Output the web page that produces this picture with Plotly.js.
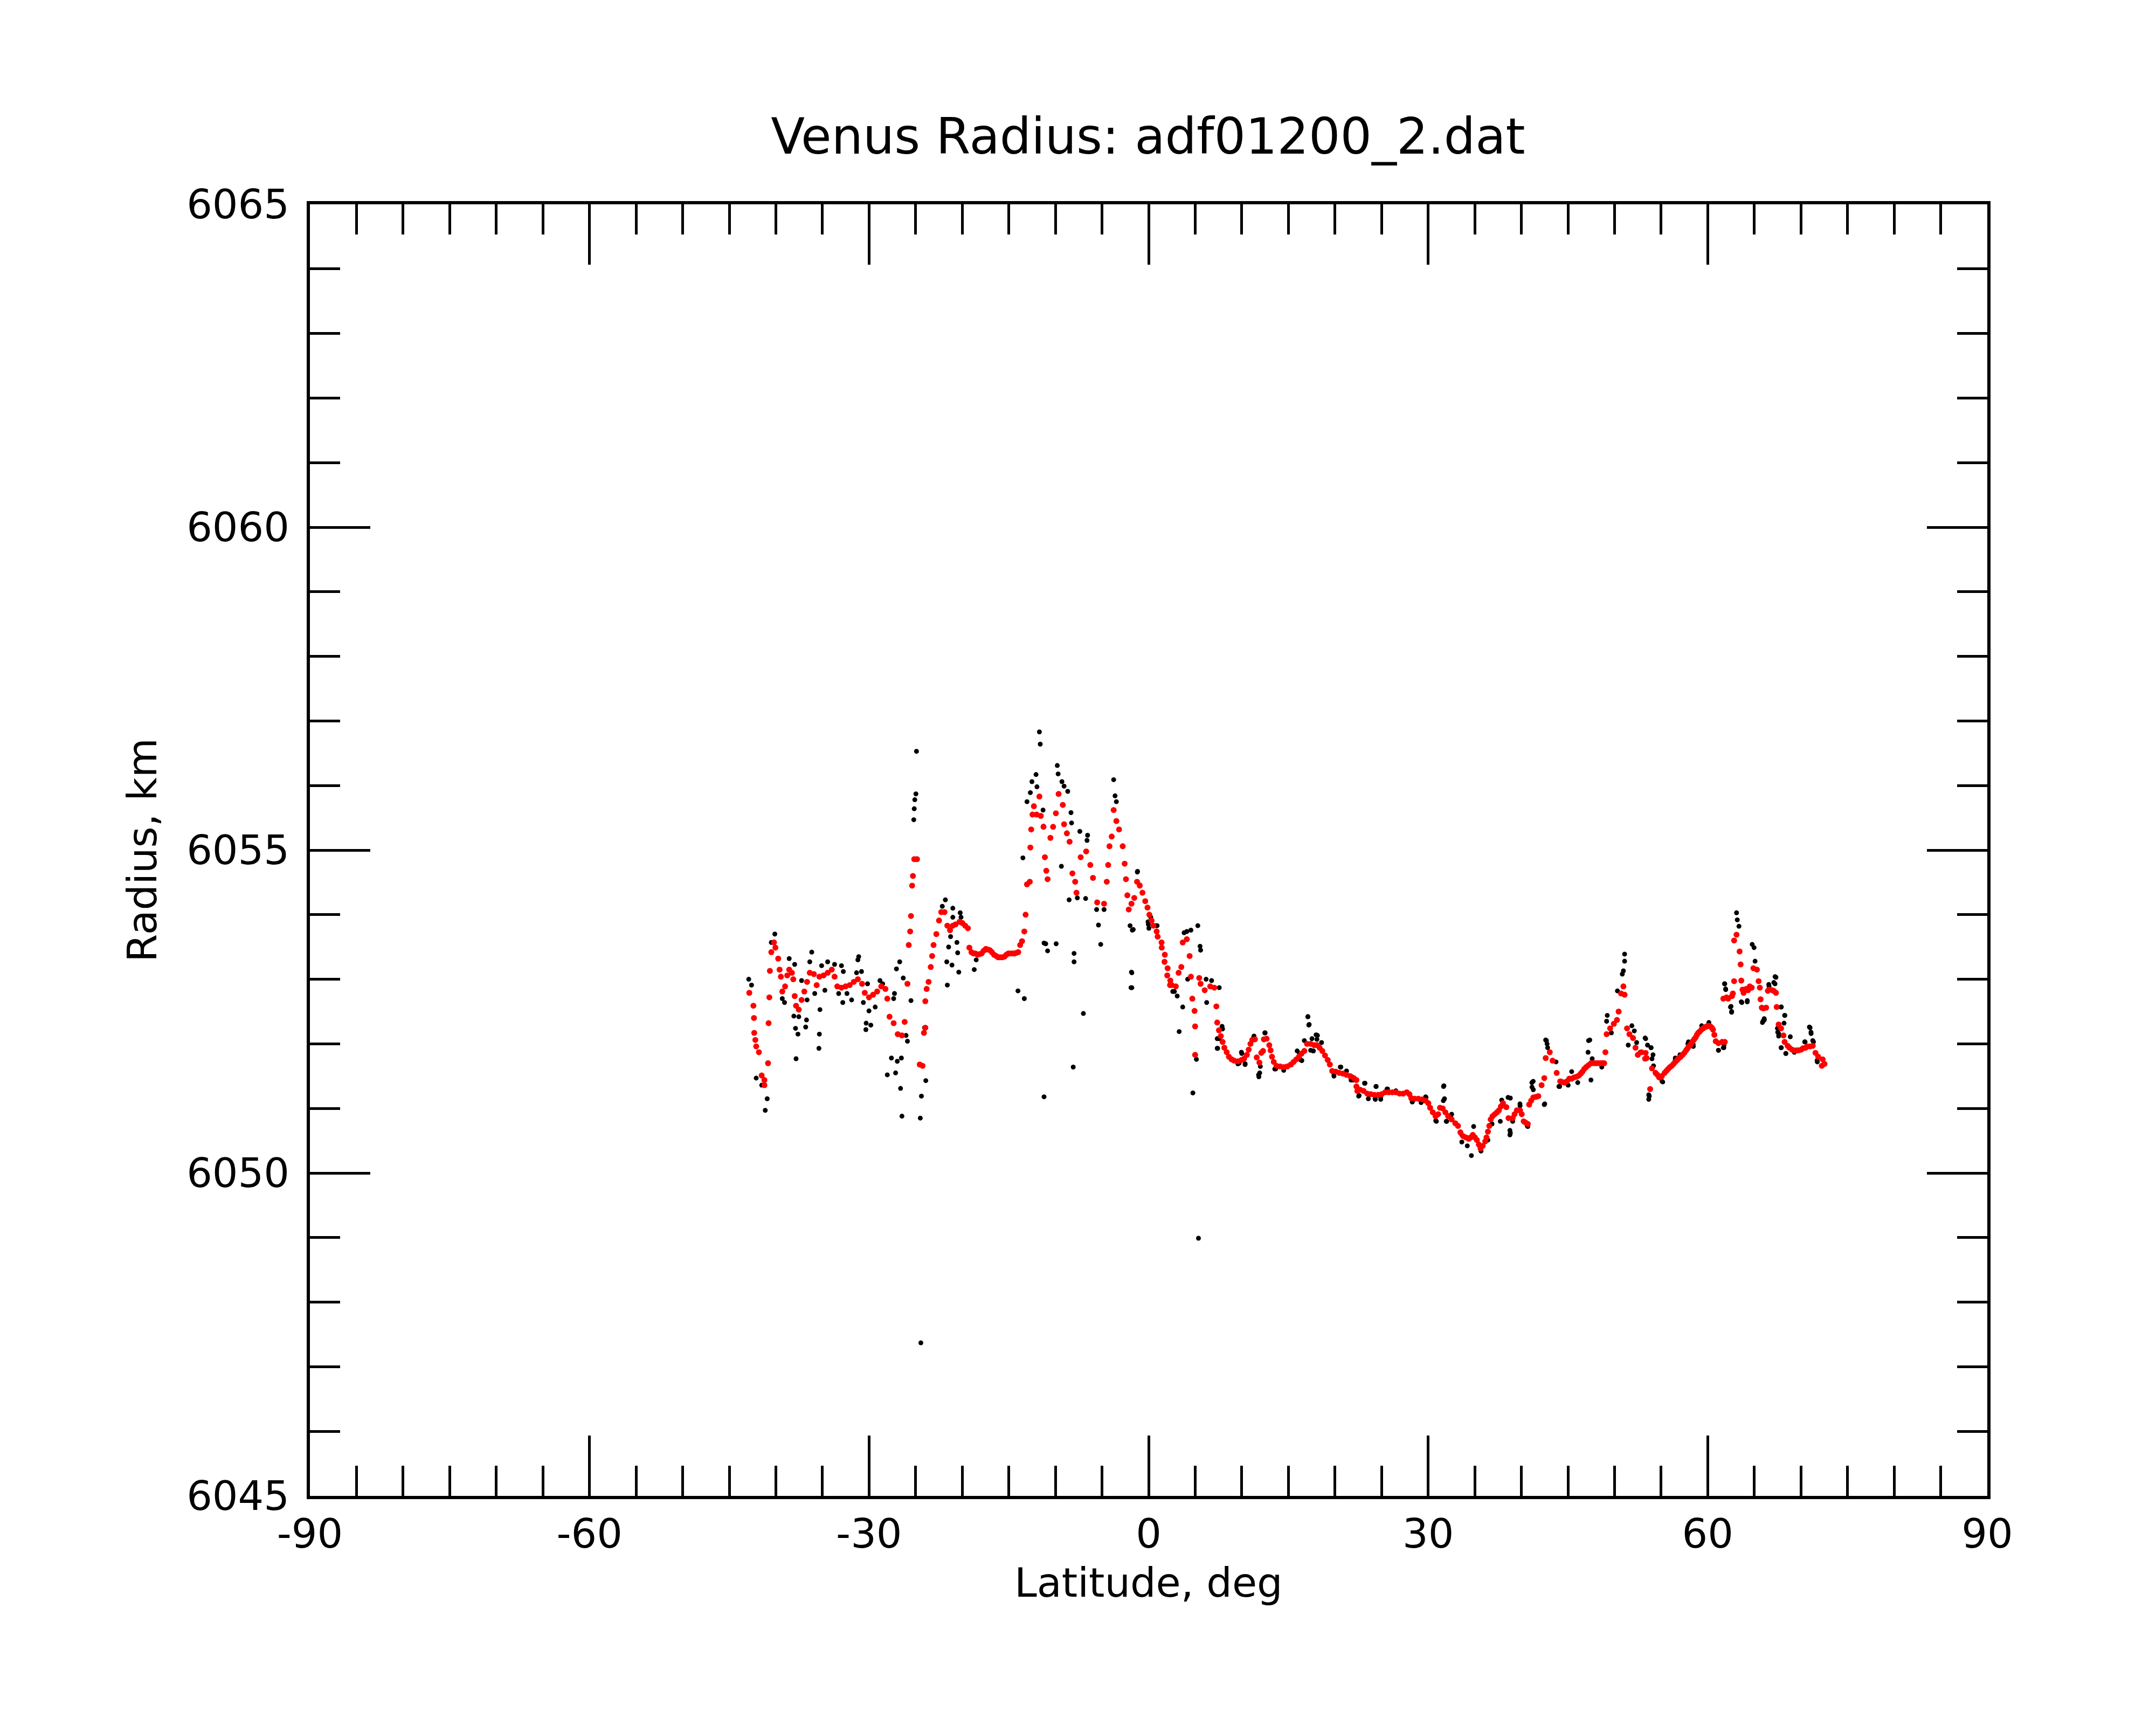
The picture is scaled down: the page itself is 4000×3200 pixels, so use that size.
<!DOCTYPE html>
<html>
<head>
<meta charset="utf-8">
<script src="https://cdn.plot.ly/plotly-3.0.1.min.js"></script>
<style>
  html, body { margin: 0; padding: 0; background: #fff; }
  #chart { width: 4000px; height: 3200px; }
</style>
</head>
<body>
<div id="chart"></div>
<script>
// raw radius samples (black)
const rawLat = [
  -42.91, -42.61, -42.11, -41.52, -40.93, -41.14, -40.49, -40.11, -39.31, -39.07,
  -38.57, -37.98, -38.07, -37.89, -37.63, -37.83, -37.54, -37.24, -36.71, -36.80,
  -36.65, -36.36, -36.15, -35.83, -35.27, -35.33, -35.38, -35.09, -34.74, -34.44,
  -33.70, -32.96, -32.76, -33.26, -32.82, -32.37, -31.87, -31.34, -31.20, -31.11,
  -30.81, -30.16, -30.61, -30.01, -30.31, -30.34, -29.81, -29.34, -28.83, -28.54,
  -27.27, -27.36, -27.06, -26.71, -26.33, -26.03, -25.88, -27.60, -26.97, -26.53,
  -28.04, -27.15, -26.62, -26.47, -25.50, -25.20, -25.15, -25.09, -24.97, -24.91,
  -24.50, -24.38, -23.91, -24.05, -24.44, -21.81, -22.14, -21.01, -21.01, -20.22,
  -20.13, -21.46, -20.57, -21.25, -20.49, -21.66, -21.10, -20.37, -21.60, -18.71,
  -18.50, -13.49, -14.02, -13.34, -13.05, -12.69, -12.52, -12.08, -11.98, -11.63,
  -11.72, -11.33, -11.28, -11.22, -11.04, -10.84, -9.92, -11.22, -9.80, -9.71,
  -9.30, -8.68, -9.07, -8.27, -8.33, -7.38, -6.55, -6.61, -9.36, -8.53,
  -7.65, -6.76, -8.00, -8.00, -7.00, -8.09, -5.38, -5.14, -5.58, -4.78,
  -3.75, -3.60, -3.46, -1.84, -1.89, -1.99, -1.75, -1.19, -0.95, -0.06,
  0.23, 0.82, 2.59, -1.21, -1.65, -1.80, -1.80, -0.03, 0.03, 0.91,
  2.77, 3.07, 3.66, 3.28, 3.81, 4.10, 4.54, 5.28, 5.52, 5.58,
  4.19, 6.17, 6.76, 7.58, 6.23, 4.75, 5.13, 7.41, 7.58, 7.88,
  5.35, 9.71, 10.00, 10.36, 11.27, 11.92, 11.83, 12.51, 13.54, 16.20,
  16.44, 17.08, 17.23, 17.53, 17.67, 18.12, 18.56, 19.89, 20.63, 21.07,
  21.81, 21.95, 22.54, 23.22, 23.58, 24.40, 24.31, 24.90, 25.64, 26.53,
  27.71, 28.30, 29.77, 30.81, 31.69, 31.63, 31.99, 32.43, 33.61, 33.61,
  34.20, 34.64, 34.88, 35.67, 36.41, 36.85, 37.30, 37.74, 37.89, 38.57,
  38.77, 38.77, 39.07, 39.86, 40.69, 41.13, 41.28, 41.87, 42.46, 42.61,
  42.76, 44.03, 38.82, 38.82, 39.85, 40.63, 41.14, 41.27, 42.51, 42.82,
  42.69, 43.72, 44.11, 45.02, 45.40, 46.05, 47.21, 47.34, 47.16, 47.47,
  47.60, 48.63, 49.15, 49.22, 49.66, 50.31, 50.83, 50.95, 51.08, 51.08,
  51.34, 51.47, 51.86, 52.12, 52.37, 52.76, 53.28, 53.54, 53.92, 54.13,
  54.18, 53.67, 53.67, 55.09, 56.51, 57.02, 57.93, 58.44, 59.35, 60.12,
  61.15, 61.67, 61.75, 61.80, 61.93, 62.44, 62.57, 63.09, 63.17, 63.35,
  63.60, 64.25, 63.86, 64.77, 64.97, 65.08, 65.93, 66.06, 66.58, 67.22,
  67.09, 67.87, 68.25, 67.48, 67.61, 67.87, 68.38, 69.29, 70.45, 70.91,
  71.09, 71.35, 71.74, 72.26,
  17.10, 17.19, 17.97, 18.06, 17.39, 17.68, 16.71, 12.47, 11.31, 7.36,
  7.36, 7.94, 9.96, 9.58, 10.35, 11.80, 11.99, 13.63, 14.50, 15.94,
  16.33, 19.89, 20.57, 21.24, 21.72, 22.59, 23.17, 24.42, 24.33, 24.91,
  25.58, 26.54, 28.28, 29.24, 29.73, 31.65, 31.75, 30.88, 31.94, 32.52,
  61.83, 61.92, 62.50, 62.56, 63.66, 64.24, 67.32, 67.22, 66.55, 65.87,
  66.07, 67.90, 68.28, 68.19, 67.51, 67.61, 68.86, 67.90, 68.38, 70.98,
  71.08, 71.27, 70.40, 71.76, 61.15, 61.73, 60.09, 58.45, 57.87, 56.52,
  55.17, 53.34, 53.92, 54.02, 53.73
];
const rawRad = [
  6053.00, 6052.91, 6051.47, 6051.36, 6051.15, 6050.97, 6053.57, 6053.70, 6052.70, 6052.64,
  6053.32, 6053.23, 6052.43, 6052.24, 6052.15, 6051.77, 6052.42, 6052.98, 6052.37, 6052.26,
  6052.68, 6053.27, 6053.42, 6052.78, 6052.53, 6052.15, 6051.93, 6053.21, 6052.83, 6053.27,
  6053.23, 6053.21, 6053.12, 6052.78, 6052.64, 6052.78, 6052.68, 6053.10, 6053.30, 6053.35,
  6053.12, 6052.93, 6052.64, 6052.51, 6052.32, 6052.22, 6052.29, 6052.57, 6052.98, 6052.93,
  6052.78, 6052.70, 6053.16, 6053.27, 6053.02, 6052.13, 6052.04, 6051.78, 6051.73, 6051.78,
  6051.52, 6051.55, 6051.31, 6050.88, 6052.67, 6055.47, 6055.64, 6055.78, 6055.87, 6056.53,
  6050.85, 6051.19, 6051.43, 6052.25, 6047.37, 6054.23, 6054.13, 6054.10, 6053.96, 6054.03,
  6053.96, 6053.50, 6053.57, 6053.66, 6053.41, 6053.27, 6053.22, 6053.11, 6052.91, 6053.15,
  6053.30, 6054.88, 6052.82, 6052.70, 6055.75, 6055.89, 6056.06, 6056.17, 6055.98, 6056.64,
  6056.83, 6055.62, 6055.37, 6053.56, 6053.55, 6053.44, 6053.55, 6051.18, 6056.31, 6056.18,
  6056.06, 6055.91, 6055.99, 6055.42, 6055.58, 6055.29, 6055.23, 6055.15, 6054.75, 6054.23,
  6054.26, 6054.25, 6053.40, 6053.27, 6052.47, 6051.64, 6053.84, 6053.54, 6054.08, 6054.08,
  6056.09, 6055.84, 6055.75, 6053.11, 6052.87, 6053.83, 6053.76, 6054.67, 6054.46, 6053.89,
  6053.96, 6053.83, 6052.81, 6054.66, 6053.77, 6053.10, 6052.87, 6053.85, 6053.79, 6053.83,
  6052.81, 6052.74, 6052.57, 6052.19, 6053.72, 6053.74, 6053.76, 6053.83, 6053.51, 6053.45,
  6053.00, 6053.00, 6052.98, 6052.87, 6052.64, 6051.24, 6051.76, 6051.93, 6052.08, 6052.27,
  6048.99, 6051.70, 6051.85, 6051.69, 6052.10, 6051.55, 6051.49, 6052.17, 6051.61, 6051.85,
  6051.74, 6052.42, 6052.30, 6052.08, 6051.89, 6052.13, 6052.02, 6051.53, 6051.64, 6051.55,
  6051.49, 6051.44, 6051.19, 6051.39, 6051.15, 6051.34, 6051.15, 6051.17, 6051.30, 6051.27,
  6051.25, 6051.10, 6051.17, 6050.81, 6051.35, 6051.12, 6050.80, 6050.89, 6050.59, 6050.48,
  6050.42, 6050.27, 6050.72, 6050.34, 6050.51, 6050.76, 6050.93, 6050.80, 6051.13, 6051.17,
  6050.66, 6050.59, 6050.80, 6051.04, 6050.72, 6051.40, 6051.29, 6051.19, 6051.06, 6052.06,
  6052.00, 6051.34, 6050.62, 6051.16, 6051.07, 6050.73, 6051.33, 6051.42, 6051.07, 6051.94,
  6052.05, 6051.72, 6051.34, 6051.36, 6051.57, 6051.40, 6052.05, 6052.06, 6051.87, 6051.44,
  6051.77, 6051.64, 6052.35, 6052.44, 6052.17, 6052.82, 6053.08, 6053.13, 6053.28, 6053.39,
  6052.24, 6051.98, 6052.28, 6052.20, 6052.02, 6051.87, 6052.09, 6051.98, 6051.94, 6051.83,
  6051.66, 6051.14, 6051.21, 6051.42, 6051.75, 6051.83, 6052.03, 6051.99, 6052.28, 6052.33,
  6051.90, 6051.94, 6051.98, 6052.93, 6052.84, 6052.57, 6052.50, 6054.03, 6053.92, 6053.82,
  6052.65, 6052.67, 6052.80, 6053.54, 6053.49, 6053.28, 6052.35, 6052.39, 6052.89, 6053.04,
  6052.95, 6052.57, 6052.44, 6052.24, 6052.16, 6051.94, 6051.85, 6051.87, 6052.03, 6052.26,
  6052.16, 6052.03, 6051.74, 6051.66,
  6052.42, 6052.29, 6052.14, 6052.07, 6051.90, 6051.89, 6052.05, 6052.17, 6052.12, 6052.08,
  6051.93, 6052.23, 6051.87, 6051.69, 6051.68, 6051.52, 6051.65, 6051.61, 6051.59, 6051.89,
  6051.75, 6051.50, 6051.64, 6051.58, 6051.44, 6051.20, 6051.39, 6051.34, 6051.14, 6051.14,
  6051.30, 6051.27, 6051.11, 6051.09, 6051.18, 6051.34, 6051.15, 6050.80, 6050.80, 6050.91,
  6052.93, 6052.85, 6052.58, 6052.49, 6052.64, 6052.65, 6053.03, 6052.93, 6052.92, 6052.33,
  6052.37, 6052.57, 6052.44, 6052.32, 6052.18, 6052.12, 6052.11, 6051.94, 6051.85, 6052.25,
  6052.18, 6052.05, 6052.03, 6051.72, 6051.90, 6051.94, 6052.30, 6051.96, 6052.00, 6051.78,
  6051.41, 6052.08, 6051.94, 6051.77, 6051.19
];

// smoothed radius (red)
const fitLat = [
  -42.85, -42.41, -42.35, -42.32, -42.20, -42.11, -41.82, -41.52, -41.23, -41.23,
  -40.84, -40.78, -40.70, -40.64, -40.49, -40.20, -40.05, -39.75, -39.60, -39.46,
  -39.31, -39.01, -38.78, -38.57, -38.28, -38.13, -37.98, -37.83, -37.54, -37.24,
  -36.95, -36.65, -36.36, -35.92, -35.62, -35.33, -34.88, -34.44, -34.00, -33.70,
  -33.41, -32.96, -32.52, -32.08, -31.64, -31.20, -30.75, -30.46, -30.01, -29.57,
  -29.13, -28.69, -28.24, -28.04, -27.80, -27.36, -26.92, -26.47, -26.18, -25.88,
  -25.74, -25.59, -25.50, -25.38, -25.29, -25.15, -24.85, -24.56, -24.26, -24.11,
  -23.96, -23.96, -23.82, -23.61, -23.38, -23.23, -23.08, -22.78, -22.49, -22.25,
  -21.90, -21.60, -21.31, -21.01, -20.72, -20.28, -19.98, -19.69, -19.39, -19.24,
  -18.80, -18.36, -17.92, -17.47, -17.03, -16.59, -16.15, -15.70, -15.26, -14.82,
  -14.38, -13.99, -13.79, -13.58, -13.34, -13.20, -13.05, -12.75, -12.69, -12.60,
  -12.46, -12.31, -12.02, -11.72, -11.57, -11.28, -11.13, -10.98, -10.84, -10.54,
  -10.25, -9.95, -9.66, -9.21, -9.07, -8.77, -8.48, -8.18, -7.88, -7.74,
  -7.29, -6.70, -6.26, -5.97, -5.52, -4.78, -4.49, -4.34, -4.20, -3.96,
  -3.75, -3.46, -3.17, -2.78, -2.57, -2.43, -2.28, -2.13, -1.84, -1.54,
  -1.24, -0.95, -0.66, -0.36, 0.08, 0.52, 0.97, 1.41, 1.71, 2.00,
  2.30, 2.48, 2.92, 3.22, 3.51, 3.66, 4.10, 4.40, 4.54, 4.69,
  4.93, 4.99, 4.99, 5.43, 5.58, 6.02, 6.61, 7.05,
  7.27, 7.36, 7.55, 7.75, 7.94, 8.13, 8.38, 8.62, 8.90, 9.19,
  9.58, 9.96, 10.25, 10.54, 10.74, 10.93, 11.12, 11.41, 11.60, 11.89,
  12.09, 12.28, 12.37, 12.66, 12.95, 13.09, 13.24, 13.43, 13.72, 14.11,
  14.50, 14.88, 15.27, 15.56, 15.85, 16.13, 16.42, 16.71, 17.00, 17.39,
  17.77, 18.06, 18.35, 18.64, 18.93, 19.22, 19.45, 19.70, 20.09, 20.47,
  20.86, 21.24, 21.63, 22.01, 22.30, 22.30, 22.40, 22.69, 23.07, 23.46,
  23.85, 24.23, 24.62, 25.00, 25.39, 25.77, 26.16, 26.54, 26.93, 27.32,
  27.70, 27.99, 28.18, 28.57, 28.95, 29.34, 29.73, 30.02, 30.21, 30.50,
  30.79, 31.07, 31.27, 31.56, 31.85, 32.14, 32.52, 32.91, 33.20,
  33.76, 34.35, 34.79, 35.23, 35.62, 36.12, 36.41, 36.71,
  37.15, 37.59, 38.03, 38.39, 38.62, 39.07, 39.51, 39.86, 40.25, 40.69,
  40.84, 41.28, 41.81, 42.17, 42.46, 42.61, 43.05, 43.35, 43.79, 44.17,
  44.63, 45.14, 45.66, 46.18, 46.56, 46.95, 47.47, 47.98, 48.50, 48.89,
  49.02, 49.15, 49.53, 49.92, 50.26, 50.44, 50.70, 50.95, 51.08, 51.34,
  51.60, 51.98, 52.25, 52.50, 52.89, 53.28,
  53.34, 53.44, 53.82, 54.02, 54.40, 54.79, 55.08, 55.37, 55.75, 56.14,
  56.52, 56.91, 57.30, 57.68, 57.97, 58.26, 58.55, 58.84, 59.13, 59.51,
  59.90, 60.28, 60.57, 60.71, 60.86, 61.15, 61.54, 61.83,
  61.67, 62.02, 62.19, 62.60, 62.70, 62.83, 62.83, 63.09, 63.42, 63.53,
  63.60, 63.73, 63.85, 64.12, 64.33, 64.51, 64.72, 64.90, 65.28, 65.46,
  65.59, 65.67, 65.80, 65.97, 66.27, 66.45, 66.58, 66.93, 67.09, 67.32,
  67.40, 67.61, 67.87, 68.13, 68.25, 68.57, 68.77, 69.05, 69.25, 69.54,
  69.73, 70.02, 70.21, 70.50, 70.69, 70.98, 71.27, 71.56, 71.85, 72.24,
  72.33, 72.53,
  // further readings along the smooth stretches
  -19.01, -18.60, -18.15, -17.71, -17.24, -16.82, -16.35, -15.94, -15.47, -15.05,
  -14.58, -14.17, -0.12, 0.32, 0.86, 1.39, 1.74, 2.04, 2.33,
  44.37, 44.89, 45.40, 45.92, 46.38, 46.75, 47.21, 47.73, 48.24, 48.71,
  54.60, 54.92, 55.56, 55.95, 56.33, 56.72, 57.10, 57.49, 57.83, 58.12,
  58.39, 58.70, 58.97, 59.32, 59.70, 60.09, 60.44,
  33.46, 34.05, 34.55, 35.02, 35.44, 35.85, 36.26, 36.56, 36.91, 37.38,
  37.80, 39.27, 40.04, 40.46, 41.05, 41.58
];
const fitRad = [
  6052.79, 6052.59, 6052.40, 6052.17, 6052.06, 6051.96, 6051.87, 6051.51, 6051.44, 6051.36,
  6051.70, 6052.32, 6052.72, 6053.13, 6053.42, 6053.57, 6053.49, 6053.32, 6053.15, 6053.04,
  6052.81, 6052.89, 6053.06, 6053.15, 6053.10, 6053.00, 6052.74, 6052.59, 6052.53, 6052.68,
  6052.81, 6052.96, 6053.10, 6053.08, 6052.91, 6053.04, 6053.06, 6053.10, 6053.15, 6053.04,
  6052.89, 6052.87, 6052.89, 6052.91, 6052.96, 6053.00, 6052.93, 6052.79, 6052.72, 6052.76,
  6052.81, 6052.89, 6052.85, 6052.70, 6052.42, 6052.32, 6052.15, 6052.13, 6052.34, 6052.93,
  6053.53, 6053.74, 6053.98, 6054.45, 6054.60, 6054.86, 6054.86, 6051.68, 6051.66, 6052.17,
  6052.25, 6052.66, 6052.85, 6052.96, 6053.19, 6053.36, 6053.53, 6053.70, 6053.91, 6054.04,
  6054.04, 6053.83, 6053.76, 6053.83, 6053.85, 6053.89, 6053.87, 6053.83, 6053.79, 6053.49,
  6053.40, 6053.38, 6053.40, 6053.47, 6053.45, 6053.38, 6053.34, 6053.34, 6053.38, 6053.40,
  6053.40, 6053.42, 6053.53, 6053.59, 6053.74, 6054.00, 6054.47, 6054.51, 6055.04, 6055.32,
  6055.55, 6055.68, 6055.55, 6055.83, 6055.53, 6055.36, 6054.89, 6054.68, 6054.55, 6055.19,
  6055.36, 6055.57, 6055.87, 6055.70, 6055.40, 6055.26, 6055.13, 6054.64, 6054.51, 6054.34,
  6054.89, 6054.98, 6054.77, 6054.57, 6054.19, 6054.17, 6054.51, 6054.77, 6055.06, 6055.21,
  6055.62, 6055.45, 6055.32, 6055.06, 6054.79, 6054.55, 6054.30, 6054.08, 6054.17, 6054.26,
  6054.51, 6054.45, 6054.34, 6054.21, 6054.00, 6053.83, 6053.66, 6053.49, 6053.27, 6053.06,
  6052.91, 6052.91, 6052.89, 6053.10, 6053.19, 6053.57, 6053.62, 6053.36, 6053.04, 6052.70,
  6052.51, 6052.27, 6051.83, 6053.02, 6052.93, 6052.83, 6052.89, 6052.87,
  6052.58, 6052.33, 6052.21, 6052.12, 6052.03, 6051.94, 6051.87, 6051.80, 6051.76, 6051.74,
  6051.73, 6051.75, 6051.77, 6051.83, 6051.91, 6052.00, 6052.06, 6052.07, 6051.79, 6051.71,
  6051.86, 6051.89, 6052.07, 6052.08, 6051.98, 6051.90, 6051.80, 6051.72, 6051.66, 6051.65,
  6051.64, 6051.65, 6051.68, 6051.72, 6051.76, 6051.80, 6051.85, 6051.89, 6052.00, 6052.00,
  6051.98, 6051.98, 6051.94, 6051.89, 6051.82, 6051.75, 6051.68, 6051.58, 6051.57, 6051.55,
  6051.54, 6051.52, 6051.50, 6051.47, 6051.44, 6051.34, 6051.27, 6051.29, 6051.27, 6051.23,
  6051.22, 6051.21, 6051.21, 6051.22, 6051.25, 6051.25, 6051.25, 6051.25, 6051.23, 6051.23,
  6051.25, 6051.22, 6051.16, 6051.15, 6051.15, 6051.14, 6051.12, 6051.08, 6051.01, 6050.94,
  6050.88, 6050.91, 6051.01, 6051.00, 6050.94, 6050.88, 6050.83, 6050.77, 6050.73,
  6050.57, 6050.53, 6050.59, 6050.51, 6050.38, 6050.49, 6050.64, 6050.83,
  6050.91, 6050.97, 6051.08, 6051.02, 6050.85, 6050.85, 6050.97, 6050.97, 6050.80, 6050.76,
  6051.06, 6051.17, 6051.19, 6051.36, 6051.47, 6051.78, 6051.87, 6051.74, 6051.55, 6051.42,
  6051.40, 6051.46, 6051.48, 6051.51, 6051.57, 6051.64, 6051.70, 6051.70, 6051.70, 6051.70,
  6051.87, 6052.15, 6052.24, 6052.31, 6052.37, 6052.50, 6052.78, 6052.89, 6052.76, 6052.24,
  6052.15, 6052.09, 6051.94, 6051.83, 6051.87, 6051.77,
  6051.86, 6051.78, 6051.30, 6051.62, 6051.55, 6051.48, 6051.50, 6051.55, 6051.61, 6051.66,
  6051.72, 6051.78, 6051.83, 6051.90, 6051.96, 6052.01, 6052.07, 6052.14, 6052.19, 6052.24,
  6052.27, 6052.27, 6052.22, 6052.14, 6052.04, 6052.01, 6052.03, 6052.03,
  6052.70, 6052.72, 6052.70, 6052.74, 6052.78, 6052.97, 6053.60, 6053.69, 6053.43, 6053.23,
  6052.98, 6052.84, 6052.79, 6052.85, 6052.83, 6052.89, 6052.87, 6053.17, 6053.15, 6052.97,
  6052.87, 6052.69, 6052.56, 6052.55, 6052.56, 6052.82, 6052.84, 6052.83, 6052.82, 6052.79,
  6052.57, 6052.30, 6052.24, 6052.13, 6052.03, 6051.97, 6051.94, 6051.91, 6051.90, 6051.90,
  6051.90, 6051.91, 6051.93, 6051.94, 6051.96, 6051.96, 6051.97, 6051.86, 6051.80, 6051.66,
  6051.76, 6051.69,
  6053.42, 6053.40, 6053.39, 6053.44, 6053.46, 6053.42, 6053.36, 6053.34, 6053.35, 6053.40,
  6053.40, 6053.41, 6054.11, 6053.91, 6053.74, 6053.57, 6053.38, 6053.17, 6052.98,
  6051.41, 6051.42, 6051.46, 6051.49, 6051.54, 6051.61, 6051.67, 6051.70, 6051.70, 6051.70,
  6051.52, 6051.48, 6051.58, 6051.64, 6051.69, 6051.75, 6051.80, 6051.86, 6051.93, 6051.98,
  6052.04, 6052.10, 6052.17, 6052.22, 6052.26, 6052.28, 6052.25,
  6050.63, 6050.55, 6050.55, 6050.55, 6050.44, 6050.42, 6050.55, 6050.73, 6050.88, 6050.94,
  6051.03, 6050.91, 6050.91, 6050.78, 6051.12, 6051.18
];

const xTickVals = [-90, -60, -30, 0, 30, 60, 90];
const xTickText = ['-90', '-60', '-30', '0', '30', '60', '90'];
const yTickVals = [6045, 6050, 6055, 6060, 6065];
const yTickText = ['6045', '6050', '6055', '6060', '6065'];

const FONT = { family: 'DejaVu Sans', color: '#000', size: 75 };

const AXIS = {
    showgrid: false, zeroline: false, fixedrange: true,
    showline: true, linecolor: '#000', linewidth: 6,
    mirror: 'ticks', ticks: 'inside', ticklen: 112, tickwidth: 5, tickcolor: '#000',
    tickmode: 'array', tickfont: FONT, automargin: false
};

const traces = [
    {
        x: rawLat, y: rawRad, type: 'scatter', mode: 'markers',
        marker: { color: '#000', size: 9, line: { width: 0 } },
        hoverinfo: 'x+y'
    },
    {
        x: fitLat, y: fitRad, type: 'scatter', mode: 'markers',
        marker: { color: '#ff0000', size: 11, line: { width: 0 } },
        hoverinfo: 'x+y'
    }
];

const layout = {
    width: 4000, height: 3200,
    paper_bgcolor: '#fff', plot_bgcolor: '#fff',
    font: FONT,
    showlegend: false,
    margin: { l: 575, r: 313, t: 379, b: 425 },
    title: {
        text: 'Venus Radius: adf01200_2.dat',
        font: { ...FONT, size: 92 },
        x: 0.5325, xanchor: 'center',
        y: 0.921, yanchor: 'middle', yref: 'container'
    },
    xaxis: {
        ...AXIS, range: [-90, 90],
        tickvals: xTickVals, ticktext: xTickText,
        minor: { dtick: 5, ticks: 'inside', ticklen: 56, tickwidth: 5, tickcolor: '#000' }
    },
    yaxis: {
        ...AXIS, range: [6045, 6065],
        tickvals: yTickVals, ticktext: yTickText,
        ticklabelstandoff: 17,
        minor: { dtick: 1, ticks: 'inside', ticklen: 56, tickwidth: 5, tickcolor: '#000' },
        title: { text: 'Radius, km', font: FONT, standoff: 33 }
    },
    // x title as an annotation, just clear of the tick labels
    annotations: [{
        text: 'Latitude, deg', font: FONT, showarrow: false,
        xref: 'paper', yref: 'paper', x: 0.5, y: -0.067,
        xanchor: 'center', yanchor: 'middle'
    }]
};

Plotly.newPlot('chart', traces, layout, { displayModeBar: false, staticPlot: true });
</script>
</body>
</html>
